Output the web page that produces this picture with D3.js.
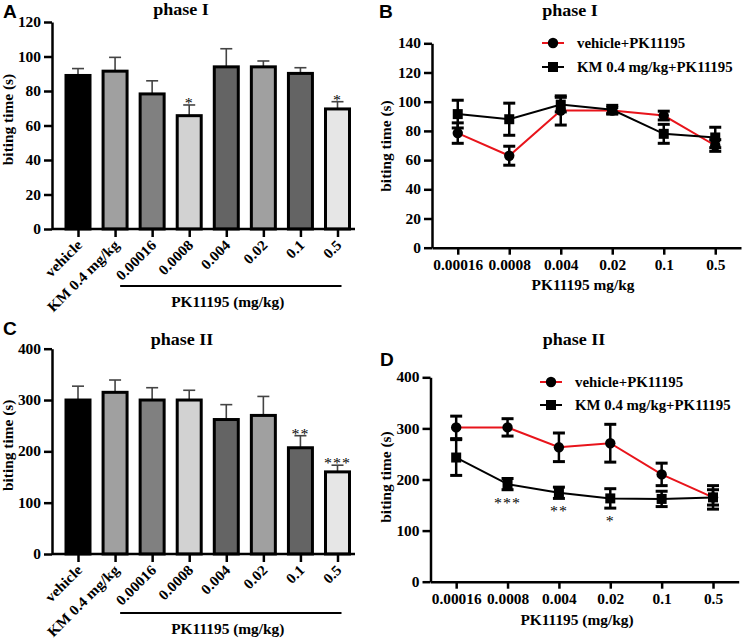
<!DOCTYPE html>
<html><head><meta charset="utf-8">
<script src="https://cdn.jsdelivr.net/npm/d3@7"></script>
<style>
body{margin:0;background:#fff}
text{font-family:"Liberation Serif","Times New Roman",serif;font-weight:bold;fill:#000}
</style></head><body>
<svg id="c" width="744" height="642"></svg>
<script>
// ---- data ----
const barCats = ["vehicle","KM 0.4 mg/kg","0.00016","0.0008","0.004","0.02","0.1","0.5"];
const barColors = ["#000000","#a0a0a0","#808080","#d2d2d2","#646464","#a0a0a0","#646464","#e6e6e6"];
const phase1Mean = [89, 91.5, 78.3, 65.7, 94, 94, 90.2, 69.6];
const phase1Sem  = [4, 8, 7.6, 6.2, 10.5, 3.4, 3.3, 4.2];
const phase1Stars = ["","","","*","","","","*"];
const phase2Mean = [300, 315, 300, 300, 262, 270, 207, 160];
const phase2Sem  = [27, 24, 24, 19, 29, 37, 23.5, 13];
const phase2Stars = ["","","","","","","**","***"];

const doses = ["0.00016","0.0008","0.004","0.02","0.1","0.5"];
const seriesNames = ["vehicle+PK11195","KM 0.4 mg/kg+PK11195"];
const bVehMean = [78.5, 63, 94, 94, 90.5, 70];
const bVehSem  = [7, 6.5, 10, 2, 3, 4];
const bKmMean  = [91.5, 88, 98, 94.5, 78, 75.5];
const bKmSem   = [9.5, 11, 5, 3, 6.5, 7];
const dVehMean = [302, 302, 263, 271, 210, 165];
const dVehSem  = [22, 17, 28, 37, 22, 15];
const dKmMean  = [243, 191, 174, 163, 162, 165];
const dKmSem   = [35, 11, 11, 19, 15, 23];
const dStars   = ["","***","**","*","",""];

const yTicksA = [0,20,40,60,80,100,120];
const yTicksB = [0,20,40,60,80,100,120,140];
const yTicks400 = [0,100,200,300,400];

const svg = d3.select("#c");

function styleAxis(g){
  g.selectAll("path.domain").attr("stroke","#000").attr("stroke-width",2.5);
  g.selectAll(".tick line").attr("stroke","#000").attr("stroke-width",2.5);
  g.selectAll(".tick text").style("font-family",'"Liberation Serif","Times New Roman",serif')
    .style("font-weight","bold").style("font-size","14.5px").attr("fill","#000");
}

// ---------- bar panels ----------
function barPanel(opt){
  const g = svg.append("g");
  const x = d3.scalePoint().domain(barCats).range(opt.xr);
  const y = d3.scaleLinear().domain(opt.yd).range(opt.yr);
  const data = barCats.map((c,i)=>({c, v:opt.mean[i], e:opt.sem[i], col:barColors[i], s:opt.stars[i]}));
  const bw = 24;
  g.selectAll("line.eb").data(data).join("line")
    .attr("x1",d=>x(d.c)).attr("x2",d=>x(d.c))
    .attr("y1",d=>y(d.v)).attr("y2",d=>y(d.v+d.e))
    .attr("stroke","#444").attr("stroke-width",1.6);
  g.selectAll("line.cap").data(data).join("line")
    .attr("x1",d=>x(d.c)-6).attr("x2",d=>x(d.c)+6)
    .attr("y1",d=>y(d.v+d.e)).attr("y2",d=>y(d.v+d.e))
    .attr("stroke","#444").attr("stroke-width",1.6);
  g.selectAll("rect").data(data).join("rect")
    .attr("x",d=>x(d.c)-bw/2).attr("width",bw)
    .attr("y",d=>y(d.v)).attr("height",d=>y(0)-y(d.v))
    .attr("fill",d=>d.col).attr("stroke","#000").attr("stroke-width",3);
  g.selectAll("text.star").data(data.filter(d=>d.s)).join("text")
    .attr("x",d=>x(d.c)).attr("y",d=>y(d.v+d.e)+3)
    .attr("text-anchor","middle").style("font-size","15px").style("letter-spacing","1px")
    .style("font-weight","normal").attr("fill","#444").text(d=>d.s);
  const ya = g.append("g").attr("transform",`translate(${opt.ax},0)`)
    .call(d3.axisLeft(y).tickValues(opt.yt).tickSize(8).tickSizeOuter(0).tickPadding(3));
  styleAxis(ya);
  const xa = g.append("g").attr("transform",`translate(0,${y(0)})`)
    .call(d3.axisBottom(x).tickSize(8).tickSizeOuter(0).tickFormat(""));
  xa.select("path.domain").remove();
  g.append("line").attr("x1",opt.ax).attr("x2",opt.xEnd).attr("y1",y(0)).attr("y2",y(0))
    .attr("stroke","#000").attr("stroke-width",2.5);
  styleAxis(xa);
  g.selectAll("text.xl").data(barCats).join("text")
    .attr("transform",d=>`translate(${x(d)+5},${y(0)+17}) rotate(-45)`)
    .attr("text-anchor","end").style("font-size","14.5px").text(d=>d);
  g.append("line").attr("x1",x(barCats[2])-32).attr("x2",x(barCats[7])+4)
    .attr("y1",y(0)+opt.lineOff).attr("y2",y(0)+opt.lineOff)
    .attr("stroke","#000").attr("stroke-width",2);
  g.append("text").attr("x",(x(barCats[2])+x(barCats[7]))/2-17).attr("y",y(0)+opt.lineOff+21)
    .attr("text-anchor","middle").style("font-size","14.5px").text("PK11195 (mg/kg)");
  g.append("text").attr("transform",`translate(${opt.ylx},${(y.range()[0]+y.range()[1])/2 - 6}) rotate(-90)`)
    .attr("text-anchor","middle").style("font-size","14.5px").text("biting time (s)");
  g.append("text").attr("x",opt.tx).attr("y",opt.ty).attr("text-anchor","middle")
    .style("font-size","17px").text(opt.title);
  g.append("text").attr("x",opt.lx).attr("y",opt.ly)
    .style("font-family","Liberation Sans, Arial, sans-serif").style("font-size","18px").text(opt.letter);
}

barPanel({xr:[78,337.5], yd:[0,120], yr:[229,22], yt:yTicksA, mean:phase1Mean, sem:phase1Sem, stars:phase1Stars,
  ax:52, xEnd:355, lineOff:57, ylx:13, tx:181, ty:15, title:"phase I", letter:"A", lx:3, ly:18});
barPanel({xr:[78,337.5], yd:[0,400], yr:[554,348.7], yt:yTicks400, mean:phase2Mean, sem:phase2Sem, stars:phase2Stars,
  ax:52, xEnd:355, lineOff:59, ylx:13, tx:182, ty:345, title:"phase II", letter:"C", lx:3, ly:335});

// ---------- line panels ----------
function linePanel(opt){
  const g = svg.append("g");
  const x = d3.scalePoint().domain(doses).range(opt.xr).padding(0.5);
  const y = d3.scaleLinear().domain(opt.yd).range(opt.yr);
  const ser = [
    {name:seriesNames[0], col:"#e8141b", shape:"circle", pts:doses.map((d,i)=>({d,v:opt.vm[i],e:opt.ve[i]}))},
    {name:seriesNames[1], col:"#000", shape:"square", pts:doses.map((d,i)=>({d,v:opt.km[i],e:opt.ke[i]}))}
  ];
  const line = d3.line().x(p=>x(p.d)).y(p=>y(p.v));
  ser.forEach(s=>{
    g.append("path").datum(s.pts).attr("d",line).attr("fill","none").attr("stroke",s.col).attr("stroke-width",2);
  });
  ser.forEach(s=>{
    const eg = g.append("g");
    eg.selectAll("line.v").data(s.pts).join("line")
      .attr("x1",p=>x(p.d)).attr("x2",p=>x(p.d)).attr("y1",p=>y(p.v-p.e)).attr("y2",p=>y(p.v+p.e))
      .attr("stroke","#000").attr("stroke-width",2.5);
    [1,-1].forEach(sg=>{
      eg.selectAll("line.c"+sg).data(s.pts).join("line")
        .attr("x1",p=>x(p.d)-6).attr("x2",p=>x(p.d)+6)
        .attr("y1",p=>y(p.v+sg*p.e)).attr("y2",p=>y(p.v+sg*p.e))
        .attr("stroke","#000").attr("stroke-width",3);
    });
  });
  ser.forEach(s=>{
    if(s.shape==="circle"){
      g.selectAll(null).data(s.pts).join("circle").attr("cx",p=>x(p.d)).attr("cy",p=>y(p.v)).attr("r",5.2).attr("fill","#000");
    } else {
      g.selectAll(null).data(s.pts).join("rect").attr("x",p=>x(p.d)-5).attr("y",p=>y(p.v)-5)
        .attr("width",10).attr("height",10).attr("fill","#000");
    }
  });
  if(opt.stars){
    const sp = doses.map((d,i)=>({d,s:opt.stars[i],v:opt.km[i],e:opt.ke[i]})).filter(p=>p.s);
    g.selectAll("text.st").data(sp).join("text").attr("x",p=>x(p.d)).attr("y",p=>y(p.v-p.e)+18)
      .attr("text-anchor","middle").style("font-size","15px").style("letter-spacing","1px")
      .style("font-weight","normal").attr("fill","#444").text(p=>p.s);
  }
  const ya = g.append("g").attr("transform",`translate(${opt.xr[0]},0)`)
    .call(d3.axisLeft(y).tickValues(opt.yt).tickSize(8).tickSizeOuter(0).tickPadding(3));
  styleAxis(ya);
  const xa = g.append("g").attr("transform",`translate(0,${y(0)})`)
    .call(d3.axisBottom(x).tickSize(7).tickSizeOuter(0).tickPadding(5));
  styleAxis(xa);
  g.append("text").attr("x",opt.xtx).attr("y",y(0)+opt.xto).attr("text-anchor","middle")
    .style("font-size","14.5px").text(opt.xtitle);
  g.append("text").attr("transform",`translate(${opt.ylx},${opt.yly}) rotate(-90)`)
    .attr("text-anchor","middle").style("font-size","14.5px").text("biting time (s)");
  g.append("text").attr("x",opt.tx).attr("y",opt.ty).attr("text-anchor","middle")
    .style("font-size","17px").text(opt.title);
  g.append("text").attr("x",opt.lx).attr("y",opt.ly)
    .style("font-family","Liberation Sans, Arial, sans-serif").style("font-size","18px").text(opt.letter);
  ser.forEach((s,i)=>{
    const ly = opt.legY[i];
    g.append("line").attr("x1",opt.legX).attr("x2",opt.legX+22).attr("y1",ly).attr("y2",ly)
      .attr("stroke",s.col).attr("stroke-width",2);
    if(s.shape==="circle") g.append("circle").attr("cx",opt.legX+11).attr("cy",ly).attr("r",5.2).attr("fill","#000");
    else g.append("rect").attr("x",opt.legX+6).attr("y",ly-5).attr("width",10).attr("height",10).attr("fill","#000");
    g.append("text").attr("x",opt.legX+35).attr("y",ly+5).style("font-size","14px").text(s.name);
  });
}

linePanel({xr:[432,741], yd:[0,140], yr:[247.7,43.3], yt:yTicksB, vm:bVehMean, ve:bVehSem, km:bKmMean, ke:bKmSem,
  xtx:583, xto:42, xtitle:"PK11195 mg/kg", ylx:391, yly:146, tx:570, ty:16, title:"phase I", letter:"B", lx:379, ly:18,
  legX:542, legY:[43,67]});
linePanel({xr:[430.5,738.7], yd:[0,400], yr:[581.7,377.3], yt:yTicks400, vm:dVehMean, ve:dVehSem, km:dKmMean, ke:dKmSem,
  stars:dStars, xtx:577, xto:43, xtitle:"PK11195 (mg/kg)", ylx:391, yly:477, tx:574, ty:345, title:"phase II", letter:"D", lx:380, ly:366,
  legX:540, legY:[382,405]});

// slight horizontal widening of the serif text, as in the reference
svg.selectAll("text").each(function(){
  const w = this.getComputedTextLength();
  if(w>0){ this.setAttribute("textLength", (w*1.06).toFixed(1)); this.setAttribute("lengthAdjust","spacingAndGlyphs"); }
});
</script></body></html>
